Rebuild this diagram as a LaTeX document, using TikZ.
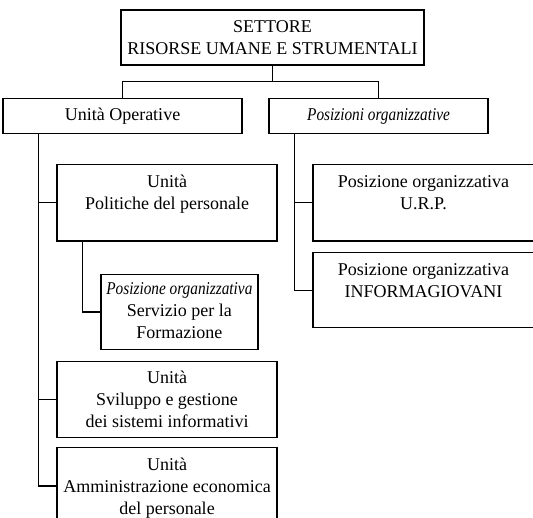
\documentclass[tikz,border=0pt]{standalone}
\usepackage{fontspec}
\setmainfont{Liberation Serif}
\usepackage{tikz}
\usetikzlibrary{positioning}
\newcommand{\righe}[1]{\begin{tabular}[t]{@{}c@{}}#1\end{tabular}}
\newcommand{\corsivo}[1]{\scalebox{0.85}[1]{\itshape #1}}
\tikzset{
    testo/.style={font=\fontsize{18}{22}\selectfont},
    capo/.style={rectangle, draw, line width=1.2pt, testo, align=center, inner sep=0pt, minimum height=34.7pt},
    ufficio/.style={rectangle, draw, line width=1.2pt, testo, inner sep=0pt, anchor=north, text height=22.5pt, text depth=#1, minimum width=220pt},
    ufficio/.default=54pt,
    filo/.style={line width=1.2pt}
}

\begin{document}
\begin{tikzpicture}[x=1pt, y=-1pt]
    \clip (0,0) rectangle (533,518);
    \fill[white] (0,0) rectangle (533,518);

    \node (settore) [capo, minimum width=303pt, minimum height=55pt] at (272.5,37.5) {SETTORE\\RISORSE UMANE E STRUMENTALI};
    \node (operative) [capo, minimum width=239pt] at (122.5,116) {Unità Operative};
    \node (posizioni) [capo, minimum width=219pt] at (378.5,116) {\corsivo{Posizioni organizzative}};

    \node (politiche) [ufficio] at (167,164) {\righe{Unità\\Politiche del personale}};
    \node (formazione) [ufficio=55pt, text height=20pt, minimum width=157pt] at (179.4,274) {\righe{\corsivo{Posizione organizzativa}\\Servizio per la\\Formazione}};
    \node (sviluppo) [ufficio=53.5pt] at (167,360.7) {\righe{Unità\\Sviluppo e gestione\\dei sistemi informativi}};
    \node (amministrazione) [ufficio=53.5pt] at (167,447.3) {\righe{Unità\\Amministrazione economica\\del personale}};

    \node (urp) [ufficio, minimum width=221pt] at (423.5,164) {\righe{Posizione organizzativa\\U.R.P.}};
    \node (informagiovani) [ufficio=52.5pt, minimum width=221pt] at (423.5,252.3) {\righe{Posizione organizzativa\\INFORMAGIOVANI}};

    \coordinate (bivio) at ([yshift=-16pt]settore.south);
    \draw [filo] (settore.south) -- (bivio);
    \draw [filo] (bivio) -| (operative.north);
    \draw [filo] (bivio) -| (posizioni.north);

    \draw [filo] ([xshift=36.3pt]operative.south west) |- (politiche.west);
    \draw [filo] ([xshift=36.3pt]operative.south west) |- (sviluppo.west);
    \draw [filo] ([xshift=36.3pt]operative.south west) |- (amministrazione.west);
    \draw [filo] ([xshift=26pt]politiche.south west) |- (formazione.west);

    \draw [filo] ([xshift=26pt]posizioni.south west) |- (urp.west);
    \draw [filo] ([xshift=26pt]posizioni.south west) |- (informagiovani.west);
\end{tikzpicture}
\end{document}
